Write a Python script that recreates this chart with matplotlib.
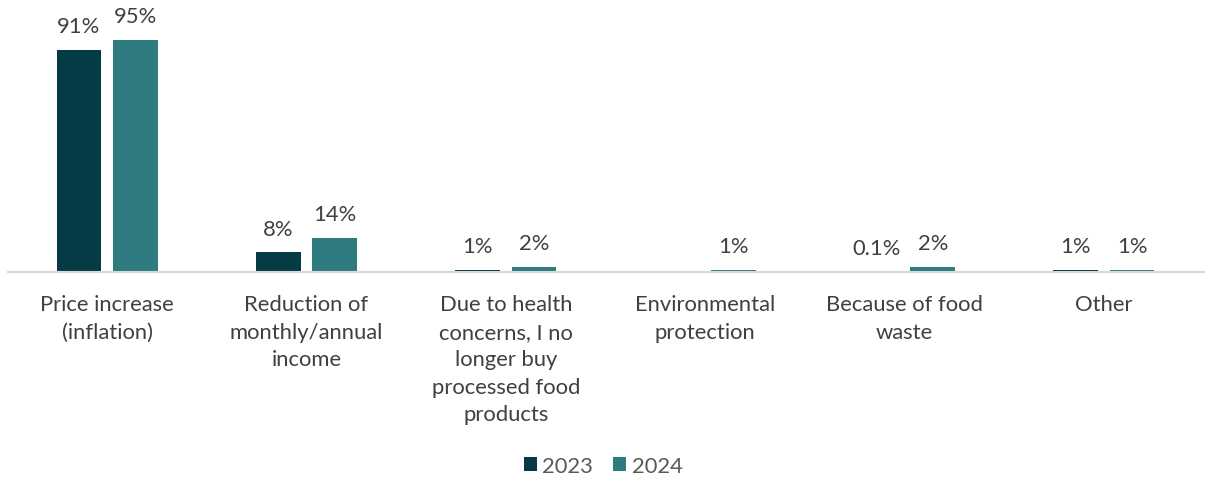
import numpy as np
import matplotlib
matplotlib.use("Agg")
import matplotlib.pyplot as plt
from matplotlib.patches import Patch

plt.rcParams['font.family'] = ['Lato', 'DejaVu Sans']

categories = [
    "Price increase\n(inflation)",
    "Reduction of\nmonthly/annual\nincome",
    "Due to health\nconcerns, I no\nlonger buy\nprocessed food\nproducts",
    "Environmental\nprotection",
    "Because of food\nwaste",
    "Other",
]
series_names = ["2023", "2024"]
values_2023 = [91, 8, 1, None, 0.1, 1]
values_2024 = [95, 14, 2, 1, 2, 1]
labels_2023 = ["91%", "8%", "1%", None, "0.1%", "1%"]
labels_2024 = ["95%", "14%", "2%", "1%", "2%", "1%"]
colors = ["#053B44", "#2E7B80"]

fig = plt.figure(figsize=(12.06, 4.81), dpi=100)
ax = fig.add_axes([7.5 / 1206, 1 - 273 / 481, 1196 / 1206, 244 / 481])

x = np.arange(len(categories))
width = 0.224
offset = 0.142
text_color = "#404040"
fs = 15.8

for vals, labs, col, dx in [(values_2023, labels_2023, colors[0], -offset),
                            (values_2024, labels_2024, colors[1], offset)]:
    for xi, v, lab in zip(x, vals, labs):
        if v is None:
            continue
        ax.bar(xi + dx, v, width=width, color=col, edgecolor="none", zorder=2)
        ax.annotate(lab, (xi + dx, v), xytext=(0, 10), textcoords="offset points",
                    ha="center", va="bottom", fontsize=fs, color=text_color)

ax.set_xlim(-0.5, len(categories) - 0.5)
ax.set_ylim(0, 100)
ax.set_yticks([])
ax.set_xticks(x)
ax.set_xticklabels(categories, fontsize=fs, color=text_color, linespacing=1.47,
                   va="top")
ax.tick_params(axis="x", length=0, pad=16)
for side in ["left", "right", "top"]:
    ax.spines[side].set_visible(False)
ax.spines["bottom"].set_color("#D9D9D9")
ax.spines["bottom"].set_linewidth(1.5)
ax.spines["bottom"].set_zorder(3)

handles = [Patch(facecolor=c, edgecolor="none") for c in colors]
fig.legend(handles, series_names, loc="center", bbox_to_anchor=(0.5, 1 - 467 / 481),
           ncol=2, frameon=False, fontsize=fs, handlelength=0.6, handleheight=0.6,
           handletextpad=0.25, columnspacing=0.9, labelcolor="#595959")

fig.savefig("out.png", dpi=100)
